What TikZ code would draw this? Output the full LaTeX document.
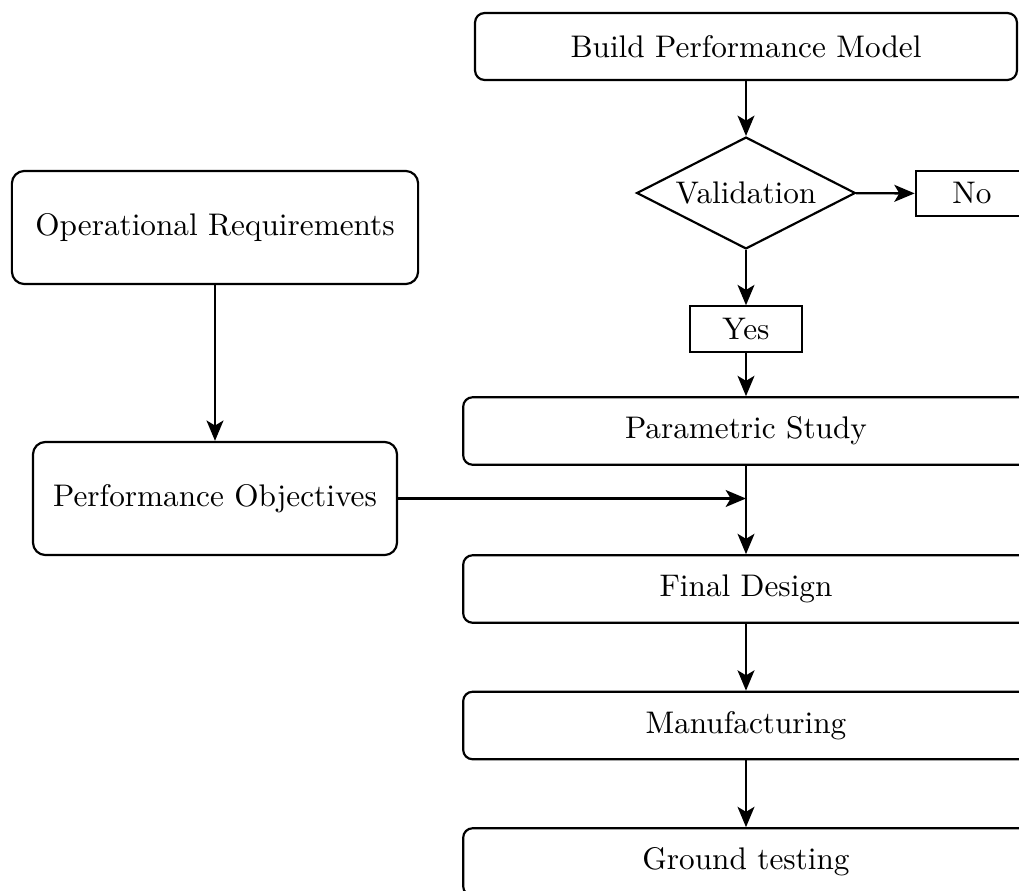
\documentclass[tikz,border=0pt]{standalone}
\usetikzlibrary{shapes.geometric,arrows.meta}
\begin{document}
\begin{tikzpicture}[x=0.32pt,y=-0.32pt,
  every node/.style={line width=0.7pt, inner sep=0pt, font=\normalsize},
  stepbox/.style={draw, rounded corners=3pt, minimum width=181pt, minimum height=21.6pt},
  bigbox/.style={draw, rounded corners=4pt, minimum height=36.2pt},
  tag/.style={draw, minimum width=36pt, minimum height=14.5pt},
  decision/.style={diamond, draw, shape aspect=2, minimum width=70pt, minimum height=35.8pt},
  arr/.style={-{Stealth[length=6.5pt,width=5.4pt,inset=1.6pt]}, line width=0.75pt}]
\useasboundingbox (0,0) rectangle (1019,891);
% right column
\node[stepbox, minimum width=173.4pt, minimum height=21.4pt] (build) at (746,46.5) {Build Performance Model};
\node[decision] (val) at (746,193) {Validation};
\node[tag] (no) at (972,193.5) {No};
\node[tag] (yes) at (746,329) {Yes};
\node[stepbox] (par) at (746,431) {Parametric Study};
\node[stepbox] (fin) at (746,589) {Final Design};
\node[stepbox] (man) at (746,725.5) {Manufacturing};
\node[stepbox] (gro) at (746,862) {Ground testing};
% left column
\node[bigbox, minimum width=130pt] (ops) at (215,227.5) {Operational Requirements};
\node[bigbox, minimum width=116.5pt] (obj) at (215,498.5) {Performance Objectives};
% connectors
\draw[arr] (build) -- (val);
\draw[arr] (val) -- (no);
\draw[arr] (val) -- (yes);
\draw[arr] (yes) -- (par);
\draw[arr] (par) -- (fin);
\draw[arr] (fin) -- (man);
\draw[arr] (man) -- (gro);
\draw[arr] (ops) -- (obj);
\coordinate (join) at (obj.east -| par.south);
\draw[arr] (obj.east) -- (join);
\end{tikzpicture}
\end{document}
